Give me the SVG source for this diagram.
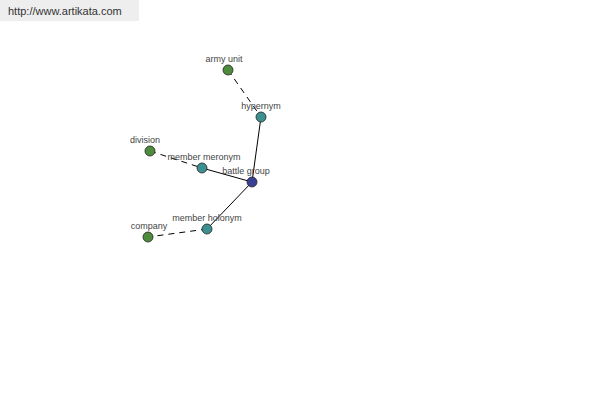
<svg xmlns="http://www.w3.org/2000/svg" width="600" height="400" viewBox="0 0 600 400">
<style>
.lbl{font-family:"Liberation Sans",Arial,sans-serif;font-size:9px;fill:#444;text-anchor:middle}
.e{stroke:#000;stroke-width:1;fill:none}
.d{stroke-dasharray:6,5}
.n{stroke:#222;stroke-width:0.8}
.g{fill:#4d8c3d}
.t{fill:#3d9090}
.b{fill:#3a3f96}
</style>
<rect x="0" y="0" width="600" height="400" fill="#fff"/>
<rect x="0" y="0" width="139" height="21" fill="#eeeeee"/>
<text x="8" y="15" font-family="Liberation Sans, Arial, sans-serif" font-size="11" fill="#333">http://www.artikata.com</text>
<g id="connectors">
<line class="e d" x1="228" y1="70" x2="261" y2="117"/>
<line class="e" x1="261" y1="117" x2="252" y2="182"/>
<line class="e d" x1="150" y1="151" x2="202" y2="168"/>
<line class="e" x1="202" y1="168" x2="252" y2="182"/>
<line class="e" x1="252" y1="182" x2="207" y2="229"/>
<line class="e d" x1="207" y1="229" x2="148" y2="237"/>
</g>
<g id="army-unit"><circle class="n g" cx="228" cy="70" r="5"/><text class="lbl" x="224" y="62">army unit</text></g>
<g id="hypernym"><circle class="n t" cx="261" cy="117" r="5"/><text class="lbl" x="261" y="109">hypernym</text></g>
<g id="division"><circle class="n g" cx="150" cy="151" r="5"/><text class="lbl" x="145" y="143">division</text></g>
<g id="member-meronym"><circle class="n t" cx="202" cy="168" r="5"/><text class="lbl" x="204" y="160">member meronym</text></g>
<g id="battle-group"><circle class="n b" cx="252" cy="182" r="5"/><text class="lbl" x="246" y="174">battle group</text></g>
<g id="member-holonym"><circle class="n t" cx="207" cy="229" r="5"/><text class="lbl" x="207" y="221">member holonym</text></g>
<g id="company"><circle class="n g" cx="148" cy="237" r="5"/><text class="lbl" x="149" y="229">company</text></g>
</svg>
